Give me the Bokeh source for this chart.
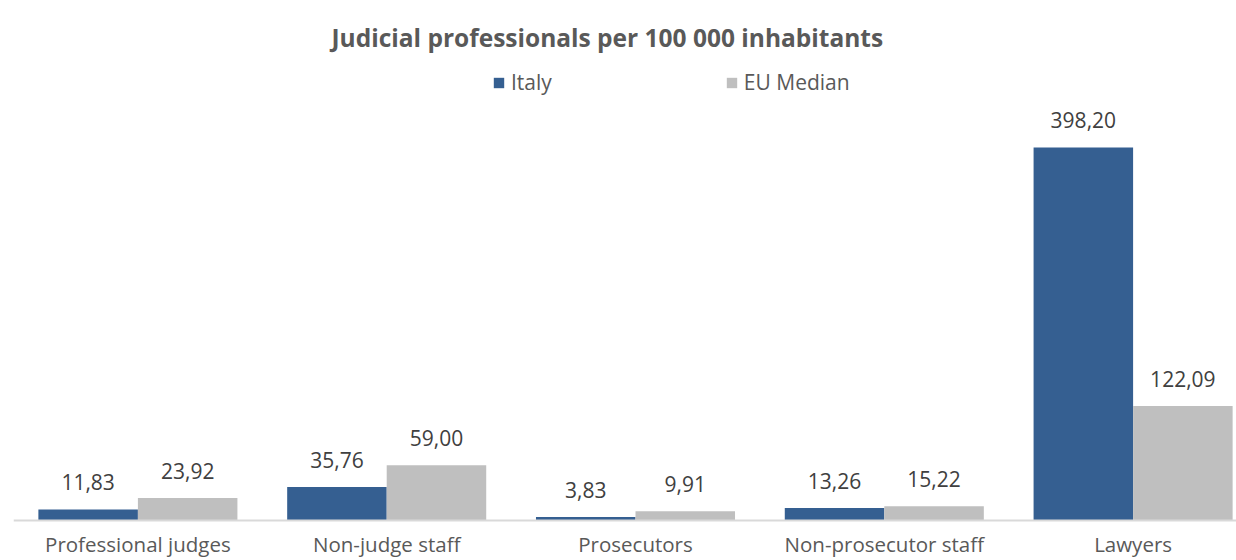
from bokeh.plotting import figure
from bokeh.models import ColumnDataSource, Range1d, Legend, LegendItem, Span
from bokeh.embed import file_html
from bokeh.resources import INLINE
from bokeh.core.properties import value

categories = ["Professional judges", "Non-judge staff", "Prosecutors", "Non-prosecutor staff", "Lawyers"]
italy = [11.83, 35.76, 3.83, 13.26, 398.20]
eu_median = [23.92, 59.00, 9.91, 15.22, 122.09]
series_names = ["Italy", "EU Median"]

FONT = "Open Sans"
x_idx = list(range(len(categories)))

def fmt(v):
    return f"{v:.2f}".replace(".", ",")

src_it = ColumnDataSource(dict(x=[i - 0.2 for i in x_idx], top=italy, lab=[fmt(v) for v in italy]))
src_eu = ColumnDataSource(dict(x=[i + 0.2 for i in x_idx], top=eu_median, lab=[fmt(v) for v in eu_median]))
src_cat = ColumnDataSource(dict(x=x_idx, y=[0] * len(categories), lab=categories))

p = figure(width=1236, height=560, output_backend="svg", toolbar_location=None,
           x_range=Range1d(-0.5, 4.4156), y_range=Range1d(-42.7, 488.8),
           min_border_left=13, min_border_right=0, min_border_top=62, min_border_bottom=0)
p.title.text = "Judicial professionals per 100 000 inhabitants"
p.title.text_font = FONT
p.title.text_font_size = "24.5px"
p.title.text_font_style = "bold"
p.title.text_color = "#595959"
p.title.align = "left"
p.title.offset = 318
p.title.standoff = 17

r1 = p.vbar(x="x", top="top", width=0.4, source=src_it, color="#355F91", line_color=None)
r2 = p.vbar(x="x", top="top", width=0.4, source=src_eu, color="#BFBFBF", line_color=None)

# category axis line at zero
p.add_layout(Span(location=0, dimension="width", line_color="#D9D9D9", line_width=2))

for src in (src_it, src_eu):
    p.text(x="x", y="top", text="lab", source=src, text_font=value(FONT),
           text_font_size="21px", text_color="#404040", text_align="center",
           text_baseline="middle", y_offset=-27)

p.text(x="x", y="y", text="lab", source=src_cat, text_font=value(FONT),
       text_font_size="20.5px", text_color="#595959", text_align="center",
       text_baseline="alphabetic", y_offset=24)

legend = Legend(items=[LegendItem(label=series_names[0], renderers=[r1]),
                       LegendItem(label=series_names[1], renderers=[r2])],
                orientation="horizontal", location=(479, 464), padding=0, margin=0,
                spacing=173, glyph_width=13, glyph_height=13, label_standoff=6,
                label_text_font=FONT, label_text_font_size="21px", label_text_color="#595959",
                border_line_color=None, background_fill_alpha=0)
p.add_layout(legend)

p.xaxis.visible = False
p.yaxis.visible = False
p.xgrid.visible = False
p.ygrid.visible = False
p.outline_line_color = None

open("out.html", "w").write(file_html(p, INLINE))
